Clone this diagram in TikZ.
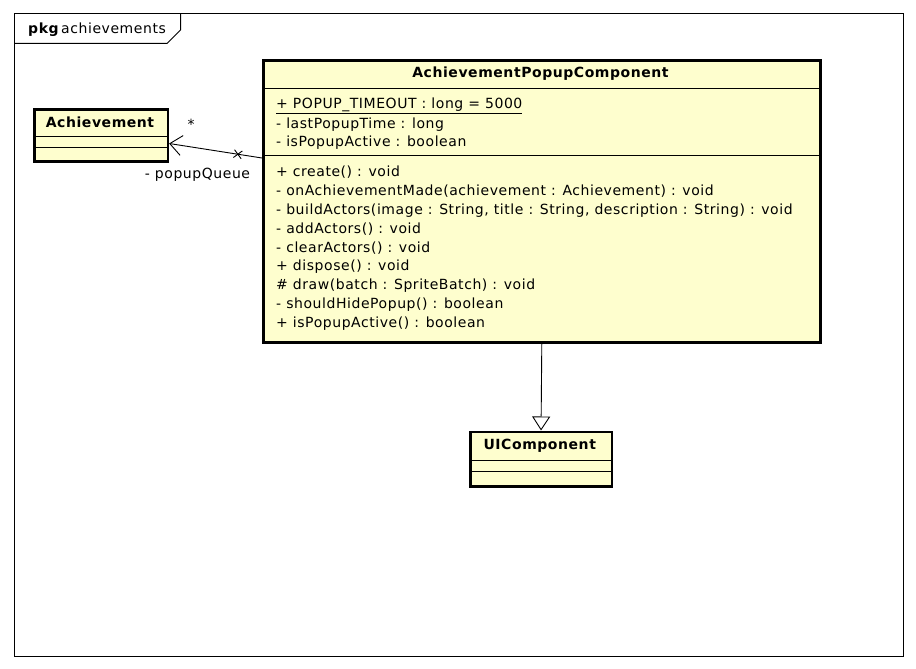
\documentclass[tikz,border=0pt]{standalone}
\usepackage{fontspec}
\setmainfont[LetterSpace=4]{DejaVu Sans}
\usetikzlibrary{arrows.meta,shapes.misc}
\definecolor{classfill}{RGB}{254,254,206}
\tikzset{
  classbox/.style={draw=black, line width=2.6pt, fill=classfill, rectangle,
    inner sep=0pt, anchor=north west},
  sep/.style={line width=0.8pt},
  title/.style={font=\fontsize{14}{16}\selectfont\bfseries, inner sep=0pt},
  member/.style={font=\fontsize{14}{16}\selectfont, inner sep=0pt, anchor=west, yshift=-1.5pt},
  assoc/.style={line width=0.9pt, -{Straight Barb[length=12pt, width=20pt, line width=0.9pt]}},
  gen/.style={line width=0.9pt, -{Triangle[open, length=14pt, width=18pt, line width=0.9pt, fill=white]}},
  xmark/.style={cross out, draw, line width=0.9pt, minimum size=7pt, inner sep=0pt},
  lbl/.style={font=\fontsize{14}{16}\selectfont, inner sep=0pt}
}
\begin{document}
\begin{tikzpicture}[x=1pt, y=-1pt]
  \useasboundingbox (0,0) rectangle (916,669);

  % package frame with its name tab
  \draw[line width=1pt] (14,14) rectangle (903,656.5);
  \draw[line width=1pt] (14,43.5) -- (167,43.5) -- (180.5,30) -- (180.5,14);
  \node[lbl, anchor=west] (pkgname) at (28,30)
    {\textbf{pkg}\hspace{2pt}achievements};

  % class Achievement
  \node[classbox, minimum width=133.5pt, minimum height=52pt] (ach) at (33,108) {};
  \draw[sep] (ach.west |- 0,136.5) -- (ach.east |- 0,136.5);
  \draw[sep] (ach.west |- 0,147.5) -- (ach.east |- 0,147.5);
  \node[title] (achtitle) at (100,122.5) {Achievement};

  % class AchievementPopupComponent
  \node[classbox, minimum width=557pt, minimum height=282pt] (comp) at (262,59) {};
  \draw[sep] (comp.west |- 0,88) -- (comp.east |- 0,88);
  \draw[sep] (comp.west |- 0,155) -- (comp.east |- 0,155);
  \node[title] (comptitle) at (540.5,74) {AchievementPopupComponent};
  \node[member] (ca1) at (276,104) {\underline{+ POPUP\_TIMEOUT : long = 5000}};
  \node[member] (ca2) at (276,123) {- lastPopupTime : long};
  \node[member] (ca3) at (276,141) {- isPopupActive : boolean};
  \node[member] (co1) at (276,171) {+ create() : void};
  \node[member] (co2) at (276,190) {- onAchievementMade(achievement : Achievement) : void};
  \node[member] (co3) at (276,209) {- buildActors(image : String, title : String, description : String) : void};
  \node[member] (co4) at (276,227.5) {- addActors() : void};
  \node[member] (co5) at (276,246.5) {- clearActors() : void};
  \node[member] (co6) at (276,265) {+ dispose() : void};
  \node[member] (co7) at (276,284) {\# draw(batch : SpriteBatch) : void};
  \node[member] (co8) at (276,303) {- shouldHidePopup() : boolean};
  \node[member] (co9) at (276,322) {+ isPopupActive() : boolean};

  % class UIComponent
  \node[classbox, minimum width=141.5pt, minimum height=54.5pt] (ui) at (469,430.5) {};
  \draw[sep] (ui.west |- 0,460.7) -- (ui.east |- 0,460.7);
  \draw[sep] (ui.west |- 0,471.7) -- (ui.east |- 0,471.7);
  \node[title] (uititle) at (539.75,446) {UIComponent};

  % association popupQueue
  \draw[assoc] (comp.west |- 0,158) --
    node[xmark, pos=0.26, sloped] (navx) {} (ach.east |- 0,143.5);
  \node[lbl] (mult) at (191,124) {*};
  \node[lbl] (role) at (197.5,175) {- popupQueue};

  % generalization
  \draw[gen] (comp.south) -- (ui.north);
\end{tikzpicture}
\end{document}
